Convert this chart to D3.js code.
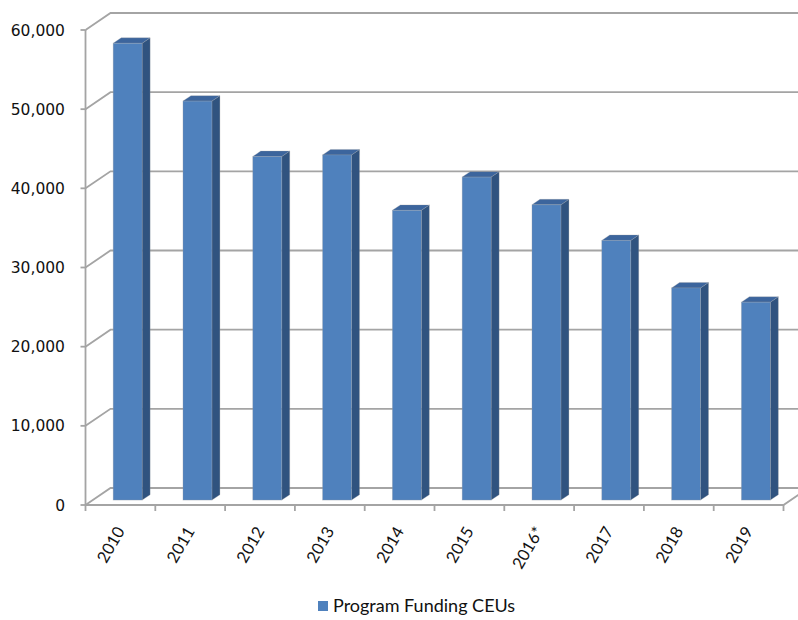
<!DOCTYPE html>
<html>
<head>
<meta charset="utf-8">
<script src="https://cdn.jsdelivr.net/npm/d3@7"></script>
<style>
  html, body { margin: 0; padding: 0; background: #fff; }
  svg { display: block; }
</style>
</head>
<body>
<svg id="chart" width="798" height="620"></svg>
<script>
// Program Funding CEUs by year
const categories = ["2010", "2011", "2012", "2013", "2014", "2015", "2016*", "2017", "2018", "2019"];
const ceus = [57700, 50400, 43400, 43600, 36600, 40800, 37300, 32800, 26800, 25000];
const yTicks = [0, 10000, 20000, 30000, 40000, 50000, 60000];
const seriesName = "Program Funding CEUs";

const svg = d3.select("#chart");

// Oblique 3D frame: front plane origin, depth vector for the full floor depth
const x0 = 85.5, y0 = 505, plotW = 698, plotH = 475;
const depth = { dx: 25, dy: -17 };
const barDepthFrom = 0.29, barDepthTo = 0.61;
const barWidthFrac = 0.415;

const x = d3.scaleBand().domain(categories).range([x0, x0 + plotW]).padding(0);
const h = d3.scaleLinear().domain([0, 60000]).range([0, plotH]);
const yFront = v => y0 - h(v);

const gridColor = "#a4a4a4";
const fmt = d3.format(",");

// Side wall and back wall gridlines
const grid = svg.append("g").attr("fill", "none").attr("stroke", gridColor).attr("stroke-width", 1.8);
yTicks.forEach(v => {
  const y = yFront(v);
  grid.append("path")
    .attr("d", `M${x0},${y}L${x0 + depth.dx},${y + depth.dy}L${x0 + plotW + depth.dx},${y + depth.dy}`);
});

// Floor front edge and right edge
grid.append("path")
  .attr("d", `M${x0},${y0}L${x0 + plotW},${y0}L${x0 + plotW + depth.dx},${y0 + depth.dy}`);

// Front vertical axis
grid.append("line").attr("x1", x0).attr("x2", x0).attr("y1", yFront(60000)).attr("y2", y0);

// Y tick marks and labels
const yAxis = svg.append("g");
yTicks.forEach(v => {
  const y = yFront(v);
  yAxis.append("line").attr("x1", x0 - 5).attr("x2", x0).attr("y1", y).attr("y2", y)
    .attr("stroke", gridColor).attr("stroke-width", 1.8);
  yAxis.append("text")
    .attr("x", 65).attr("y", y).attr("dy", "0.36em")
    .attr("text-anchor", "end")
    .attr("font-family", "DejaVu Sans, Verdana, sans-serif")
    .attr("font-size", 15.5)
    .attr("fill", "#111")
    .text(fmt(v));
});

// X tick marks at category boundaries
const xAxis = svg.append("g");
const bounds = categories.map(c => x(c)).concat([x0 + plotW]);
bounds.forEach(bx => {
  xAxis.append("line").attr("x1", bx).attr("x2", bx).attr("y1", y0).attr("y2", y0 + 6)
    .attr("stroke", gridColor).attr("stroke-width", 1.8);
});

// Rotated category labels
categories.forEach(c => {
  const cx = x(c) + x.bandwidth() / 2 + 5;
  xAxis.append("text")
    .attr("transform", `translate(${cx},${y0 + 26}) rotate(-60)`)
    .attr("text-anchor", "end")
    .attr("font-family", "Lato, Carlito, Calibri, sans-serif")
    .attr("font-size", 16.5)
    .attr("fill", "#111")
    .text(c);
});

// 3D columns
const colors = { front: "#4f81bd", side: "#30537f", top: "#3c659d" };
const bars = svg.append("g");
categories.forEach((c, i) => {
  const v = ceus[i];
  const bw = x.bandwidth() * barWidthFrac;
  const fx = x(c) + (x.bandwidth() - bw) / 2 + depth.dx * barDepthFrom;
  const fyBase = y0 + depth.dy * barDepthFrom;
  const fyTop = fyBase - h(v);
  const ddx = depth.dx * (barDepthTo - barDepthFrom);
  const ddy = depth.dy * (barDepthTo - barDepthFrom);
  const g = bars.append("g").attr("stroke", "rgba(160,160,160,0.35)").attr("stroke-width", 0.8);
  // right side face
  g.append("path")
    .attr("d", `M${fx + bw},${fyTop}L${fx + bw + ddx},${fyTop + ddy}L${fx + bw + ddx},${fyBase + ddy}L${fx + bw},${fyBase}Z`)
    .attr("fill", colors.side);
  // top face
  g.append("path")
    .attr("d", `M${fx},${fyTop}L${fx + ddx},${fyTop + ddy}L${fx + bw + ddx},${fyTop + ddy}L${fx + bw},${fyTop}Z`)
    .attr("fill", colors.top);
  // front face
  g.append("rect")
    .attr("x", fx).attr("y", fyTop).attr("width", bw).attr("height", h(v))
    .attr("fill", colors.front);
});

// Legend
const legend = svg.append("g").attr("transform", "translate(318,601)");
legend.append("rect").attr("width", 10).attr("height", 10).attr("fill", colors.front);
legend.append("text")
  .attr("x", 15).attr("y", 5).attr("dy", "0.36em")
  .attr("font-family", "Lato, Carlito, Calibri, sans-serif")
  .attr("font-size", 18)
  .attr("fill", "#111")
  .text(seriesName);
</script>
</body>
</html>
